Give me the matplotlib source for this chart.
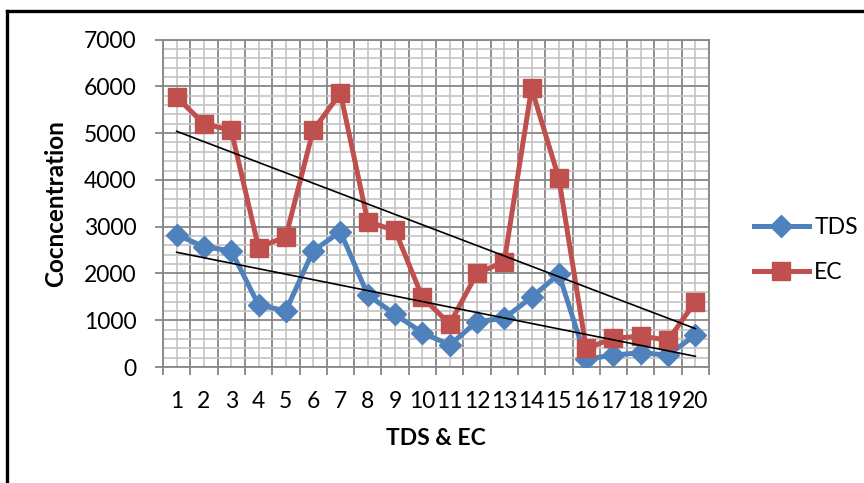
import numpy as np
import matplotlib
matplotlib.use("Agg")
import matplotlib.pyplot as plt
from matplotlib.lines import Line2D
from matplotlib.ticker import MultipleLocator, FixedLocator, NullFormatter, FixedFormatter

categories = [str(i) for i in range(1, 21)]
tds = [2830, 2570, 2485, 1325, 1200, 2485, 2890, 1540, 1125, 735,
       470, 970, 1040, 1490, 1985, 165, 255, 305, 255, 685]
ec = [5765, 5200, 5060, 2550, 2785, 5060, 5855, 3105, 2920, 1490,
      920, 2000, 2250, 5955, 4030, 400, 610, 660, 575, 1395]

plt.rcParams['font.family'] = ['Lato', 'DejaVu Sans']

fig = plt.figure(figsize=(8.64, 4.83), dpi=100)
ax = fig.add_axes([163/864, 1-367/483, (709-163)/864, (367-39.5)/483])

x = np.arange(1, len(categories) + 1)
blue = '#4F81BD'
red = '#C0504D'

ax.plot(x, tds, color=blue, lw=3.6, marker='D', ms=11.5, mfc=blue, mec=blue,
        label='TDS', zorder=3, solid_joinstyle='round')
ax.plot(x, ec, color=red, lw=3.6, marker='s', ms=13.5, mfc=red, mec=red,
        label='EC', zorder=4, solid_joinstyle='round')

for ser in (tds, ec):
    k, b = np.polyfit(x, ser, 1)
    ax.plot([x[0], x[-1]], [k*x[0]+b, k*x[-1]+b], color='black', lw=1.2, zorder=5)

ax.set_xlim(0.5, len(categories) + 0.5)
ax.set_ylim(0, 7000)
ax.xaxis.set_major_locator(FixedLocator(np.arange(0.5, len(categories) + 1, 1)))
ax.xaxis.set_major_formatter(NullFormatter())
ax.xaxis.set_minor_locator(FixedLocator(x))
ax.xaxis.set_minor_formatter(FixedFormatter(categories))
ax.yaxis.set_major_locator(MultipleLocator(1000))
ax.yaxis.set_minor_locator(MultipleLocator(200))

ax.grid(which='major', color='#878787', lw=1.3, zorder=0)
ax.grid(which='minor', color='#c4c4c4', lw=1.2, zorder=0)
ax.set_axisbelow(True)

ax.tick_params(axis='x', which='major', length=6, width=1.3, color='#878787', direction='out')
ax.tick_params(axis='x', which='minor', length=0, pad=17, labelsize=16.5)
ax.tick_params(axis='y', which='major', length=6, width=1.3, color='#878787', pad=13, labelsize=16.5)
ax.tick_params(axis='y', which='minor', length=0)

for s in ax.spines.values():
    s.set_color('#878787')
    s.set_linewidth(1.3)

ax.set_xlabel('TDS & EC', fontsize=16.5, fontweight='bold', labelpad=12)
ax.set_ylabel('Cocncentration', fontsize=17.5, fontweight='bold', labelpad=12)

leg = fig.legend(handles=ax.get_lines()[:2], loc='center left',
                 bbox_to_anchor=(733/864, 1-250/483), frameon=False,
                 fontsize=16.5, handlelength=2.4, handletextpad=0.25, labelspacing=1.05)

fig.add_artist(Line2D([6.5/864, 1], [1-10.5/483, 1-10.5/483], color='black', lw=2.4,
                      transform=fig.transFigure))
fig.add_artist(Line2D([6.5/864, 6.5/864], [1-10.5/483, 0], color='black', lw=2.4,
                      transform=fig.transFigure))

fig.savefig('out.png', dpi=100)
